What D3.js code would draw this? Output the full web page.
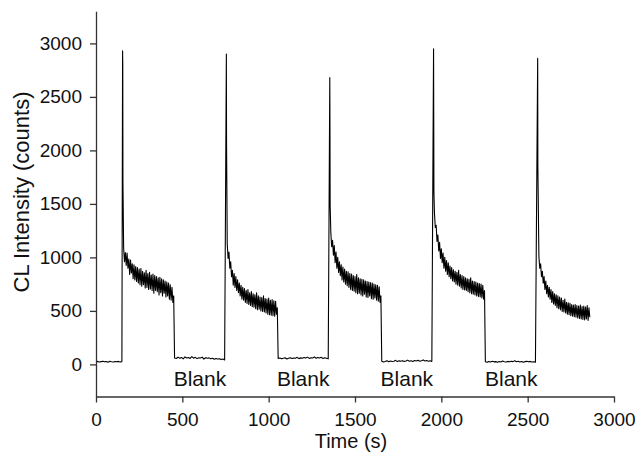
<!DOCTYPE html>
<html>
<head>
<meta charset="utf-8">
<script src="https://cdn.jsdelivr.net/npm/d3@7"></script>
<style>
  html, body { margin: 0; padding: 0; background: #fff; }
  svg { display: block; }
  text { font-family: "Liberation Sans", Arial, sans-serif; fill: #111; }
</style>
</head>
<body>
<svg id="chart" width="638" height="452"></svg>
<script>
// ---------------- data ----------------
const xTicks = [0, 500, 1000, 1500, 2000, 2500, 3000];
const yTicks = [0, 500, 1000, 1500, 2000, 2500, 3000];
const xLabel = "Time (s)";
const yLabel = "CL Intensity (counts)";
const blankText = "Blank";
const blankTimes = [602, 1200, 1800, 2405];
const blankLevel = -200;

// initial baseline, t = 0..150 step 10
const baseline0 = [25, 28, 22, 26, 30, 24, 27, 21, 29, 25, 23, 27, 24, 28, 22, 26];
// injection spikes (1 s step)
const spike1 = [2930, 2790, 1700];
const spike2 = [2900, 2080];
const spike3 = [2680, 2190, 1490];
const spike4 = [2950, 2310, 1610];
const spike5 = [2860, 1860];
// decaying CL signal, 5 s step
const pulse1 = [1090, 960, 1045, 925, 1040, 900, 985, 840, 975, 855,
  940, 800, 930, 790, 915, 775, 905, 760, 890, 745,
  895, 730, 870, 745, 855, 715, 880, 720, 850, 700,
  860, 705, 835, 690, 845, 665, 830, 690, 820, 680,
  810, 650, 815, 670, 800, 640, 790, 665, 780, 630,
  770, 640, 760, 610, 745, 600, 720, 580, 640];
const pulse2 = [1130, 990, 1050, 900, 960, 820, 880, 740, 850, 720,
  820, 690, 790, 670, 760, 640, 740, 610, 720, 600,
  710, 580, 690, 570, 700, 560, 670, 550, 680, 540,
  660, 535, 650, 520, 670, 510, 640, 515, 630, 500,
  625, 495, 640, 490, 615, 480, 610, 470, 620, 465,
  600, 460, 605, 455, 595, 450, 590, 470, 530];
const pulse3 = [1230, 1100, 1160, 1020, 1110, 950, 1050, 900, 1000, 860,
  960, 830, 930, 790, 910, 770, 890, 750, 870, 735,
  865, 720, 850, 700, 845, 690, 830, 685, 820, 670,
  840, 660, 810, 665, 800, 650, 795, 640, 790, 655,
  780, 630, 775, 625, 770, 640, 765, 615, 760, 610,
  750, 620, 745, 600, 740, 590, 725, 580, 640];
const pulse4 = [1420, 1280, 1300, 1150, 1210, 1060, 1140, 990, 1080, 950,
  1040, 900, 1000, 870, 970, 840, 950, 820, 920, 800,
  905, 780, 885, 770, 870, 750, 860, 740, 880, 730,
  840, 715, 830, 700, 820, 695, 810, 690, 800, 680,
  795, 670, 810, 660, 780, 655, 775, 650, 770, 640,
  760, 635, 755, 630, 750, 620, 740, 610, 690];
const pulse5 = [1010, 900, 940, 820, 870, 760, 820, 700, 780, 660,
  740, 630, 720, 610, 700, 580, 680, 565, 660, 550,
  650, 530, 640, 520, 630, 510, 620, 495, 600, 490,
  610, 480, 580, 470, 575, 465, 570, 455, 560, 450,
  555, 445, 560, 440, 550, 435, 545, 430, 555, 425,
  540, 420, 545, 415, 535, 425, 550, 410, 530, 440];
// blank injections, 10 s step
const blank1 = [60, 55, 68, 58, 65, 52, 70, 60, 64, 56, 72, 58, 66, 54, 62, 60, 68, 50, 63, 57, 61, 52, 58, 48, 55, 50, 53, 45, 50, 42];
const blank2 = [55, 60, 52, 58, 62, 50, 57, 63, 55, 60, 58, 66, 54, 61, 57, 64, 59, 68, 56, 62, 60, 70, 58, 64, 60, 66, 55, 62, 58, 52];
const blank3 = [30, 22, 28, 35, 25, 32, 27, 30, 38, 26, 33, 29, 35, 28, 31, 40, 30, 34, 28, 36, 32, 38, 30, 35, 42, 32, 36, 30, 34, 28];
const blank4 = [25, 20, 28, 22, 30, 24, 26, 20, 27, 23, 31, 25, 22, 28, 24, 30, 26, 34, 25, 29, 23, 27, 21, 26, 30, 24, 28, 22, 25, 20];

// segment sampling grid: start time and step for each array above
const segmentStart  = [0, 154, 160, 455, 755, 760, 1055, 1354, 1360, 1655, 1955, 1960, 2255, 2558, 2565];
const segmentStep   = [10, 1, 5, 10, 1, 5, 10, 1, 5, 10, 1, 5, 10, 1, 5];
const segmentValues = [baseline0, spike1, pulse1, blank1, spike2, pulse2, blank2, spike3, pulse3, blank3,
                       spike4, pulse4, blank4, spike5, pulse5];

// ---------------- drawing ----------------
const svg = d3.select("#chart");
const x = d3.scaleLinear().domain([0, 3000]).range([96, 614]);
const y = d3.scaleLinear().domain([-300, 3300]).range([396.5, 11.3]);

const points = segmentValues.flatMap((vals, k) =>
  vals.map((v, i) => [segmentStart[k] + i * segmentStep[k], v]));

const line = d3.line().x(d => x(d[0])).y(d => y(d[1]));
svg.append("path")
  .datum(points)
  .attr("d", line)
  .attr("fill", "none")
  .attr("stroke", "#000")
  .attr("stroke-width", 1.1)
  .attr("stroke-linejoin", "round");

const axisColor = "#333";
const fontTick = 19;

// x axis
const xMinor = d3.range(250, 3000, 500);
const gx = svg.append("g").attr("transform", `translate(0,${y(-300)})`);
gx.call(d3.axisBottom(x).tickValues(xMinor).tickSize(3).tickSizeOuter(0).tickFormat(""));
gx.call(d3.axisBottom(x).tickValues(xTicks).tickSize(6).tickSizeOuter(0).tickPadding(10).tickFormat(d3.format("d")));
gx.selectAll("text").attr("font-size", fontTick).attr("font-family", "Liberation Sans, Arial, sans-serif").attr("fill", "#111");

// y axis
const yMinor = d3.range(-250, 3300, 500);
const gy = svg.append("g").attr("transform", `translate(${x(0)},0)`);
gy.call(d3.axisLeft(y).tickValues(yMinor).tickSize(3).tickSizeOuter(0).tickFormat(""));
gy.call(d3.axisLeft(y).tickValues(yTicks).tickSize(6).tickSizeOuter(0).tickPadding(8).tickFormat(d3.format("d")));
gy.selectAll("text").attr("font-size", fontTick).attr("font-family", "Liberation Sans, Arial, sans-serif").attr("fill", "#111");

svg.selectAll(".domain, .tick line").attr("stroke", axisColor).attr("stroke-width", 1.3);

// Blank labels
svg.selectAll("text.blank")
  .data(blankTimes)
  .join("text")
  .attr("class", "blank")
  .attr("x", d => x(d))
  .attr("y", y(blankLevel))
  .attr("text-anchor", "middle")
  .attr("font-size", 21)
  .text(blankText);

// axis titles
svg.append("text")
  .attr("x", 351)
  .attr("y", 447.5)
  .attr("text-anchor", "middle")
  .attr("font-size", 20)
  .text(xLabel);

svg.append("text")
  .attr("transform", "translate(29,192) rotate(-90)")
  .attr("text-anchor", "middle")
  .attr("font-size", 22)
  .text(yLabel);
</script>
</body>
</html>
